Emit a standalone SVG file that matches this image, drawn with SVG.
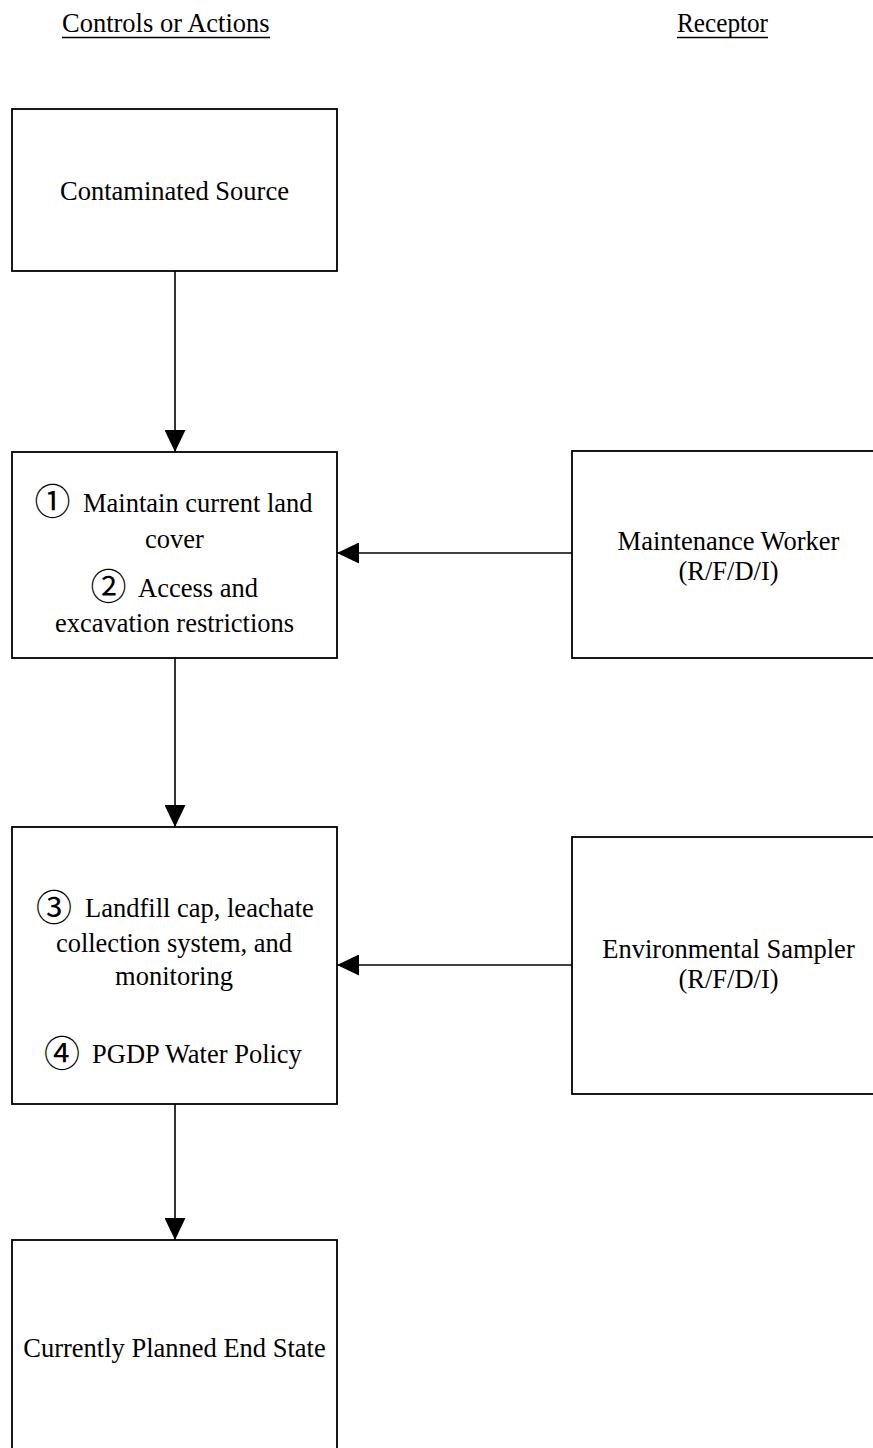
<svg xmlns="http://www.w3.org/2000/svg" width="873" height="1448" viewBox="0 0 873 1448">
  <defs>
    <marker id="arrow" markerUnits="userSpaceOnUse" markerWidth="22" markerHeight="21" refX="22" refY="10.5" orient="auto">
      <path d="M0,0 L22,10.5 L0,21 Z" fill="#000"/>
    </marker>
    <style>
      .box { fill: #fff; stroke: #000; stroke-width: 1.8; }
      .t { font-family: "Liberation Serif", "Times New Roman", serif; font-size: 26.5px; fill: #000; }
      .c { text-anchor: middle; }
      .num { font-family: "Noto Sans CJK JP", "DejaVu Sans", sans-serif; font-size: 36px; text-anchor: middle; dominant-baseline: central; fill: #000; }
      .conn { stroke: #000; stroke-width: 1.6; fill: none; marker-end: url(#arrow); }
      .ul { stroke: #000; stroke-width: 1.5; }
    </style>
  </defs>

  <rect width="873" height="1448" fill="#fff"/>

  <!-- column headings -->
  <g id="headings">
    <text class="t" x="62" y="32">Controls or Actions</text>
    <line class="ul" x1="62" y1="37.5" x2="270" y2="37.5"/>
    <text class="t" x="677" y="32" textLength="91" lengthAdjust="spacingAndGlyphs">Receptor</text>
    <line class="ul" x1="677" y1="37.5" x2="768" y2="37.5"/>
  </g>

  <!-- connectors -->
  <g id="connectors">
    <line class="conn" x1="175" y1="271" x2="175" y2="452"/>
    <line class="conn" x1="175" y1="658" x2="175" y2="827"/>
    <line class="conn" x1="175" y1="1104" x2="175" y2="1240"/>
    <line class="conn" x1="572" y1="553" x2="337" y2="553"/>
    <line class="conn" x1="572" y1="965" x2="337" y2="965"/>
  </g>

  <g id="source">
    <rect class="box" x="12" y="109" width="325" height="162"/>
    <text class="t c" x="174.5" y="200">Contaminated Source</text>
  </g>

  <g id="controls-1-2">
    <rect class="box" x="12" y="452" width="325" height="206"/>
    <text class="num" x="52.5" y="499">①</text>
    <text class="t" x="83" y="512">Maintain current land</text>
    <text class="t c" x="174.5" y="548">cover</text>
    <text class="num" x="108.5" y="584">②</text>
    <text class="t" x="138" y="597">Access and</text>
    <text class="t c" x="174.5" y="632">excavation restrictions</text>
  </g>

  <g id="controls-3-4">
    <rect class="box" x="12" y="827" width="325" height="277"/>
    <text class="num" x="54" y="905">③</text>
    <text class="t" x="85" y="917">Landfill cap, leachate</text>
    <text class="t c" x="174" y="952">collection system, and</text>
    <text class="t c" x="174" y="985">monitoring</text>
    <text class="num" x="62" y="1051">④</text>
    <text class="t" x="92" y="1063">PGDP Water Policy</text>
  </g>

  <g id="end-state">
    <rect class="box" x="12" y="1240" width="325" height="230"/>
    <text class="t c" x="174.5" y="1357">Currently Planned End State</text>
  </g>

  <g id="maintenance-worker">
    <rect class="box" x="572" y="451" width="320" height="207"/>
    <text class="t c" x="728.5" y="550">Maintenance Worker</text>
    <text class="t c" x="728.5" y="580">(R/F/D/I)</text>
  </g>

  <g id="environmental-sampler">
    <rect class="box" x="572" y="837" width="320" height="257"/>
    <text class="t c" x="728.5" y="958">Environmental Sampler</text>
    <text class="t c" x="728.5" y="988">(R/F/D/I)</text>
  </g>
</svg>
